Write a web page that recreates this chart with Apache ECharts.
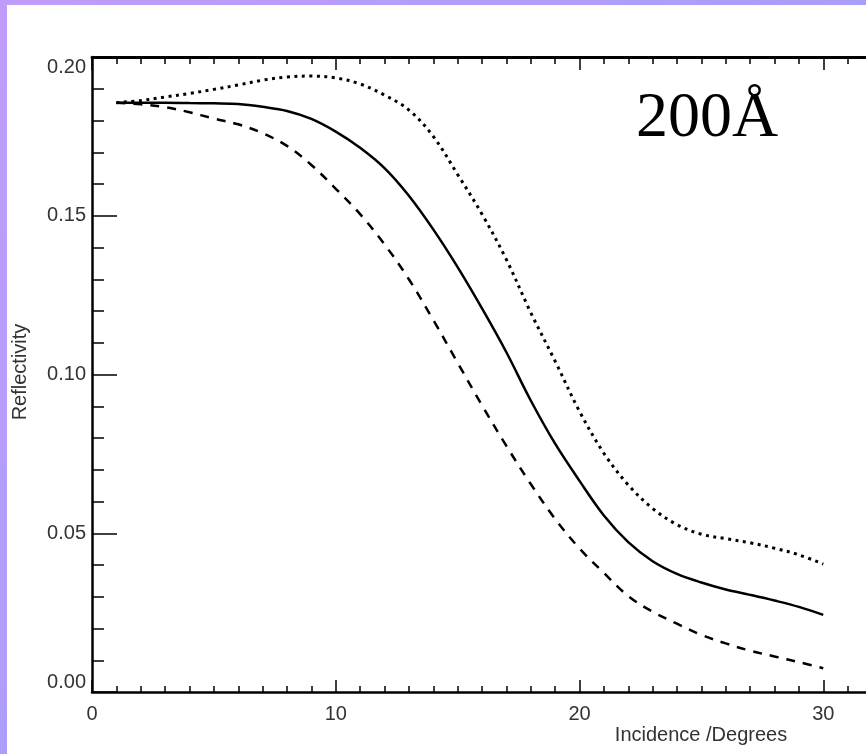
<!DOCTYPE html>
<html>
<head>
<meta charset="utf-8">
<script src="https://cdn.jsdelivr.net/npm/echarts@6/dist/echarts.min.js"></script>
<style>
html,body{margin:0;padding:0;}
#c{width:866px;height:754px;}
</style>
</head>
<body>
<div id="c"></div>
<script>
// Incidence angle (degrees)
var incidence = [1,2,3,4,5,6,7,8,9,10,11,12,13,14,15,16,17,18,19,20,21,22,23,24,25,26,27,28,29,30];
// Dotted curve (upper)
var dottedR = [0.1856,0.1863,0.1874,0.1885,0.1898,0.1912,0.1927,0.1937,0.1940,0.1934,0.1915,0.1880,0.1833,0.1750,0.1630,0.1505,0.1362,0.1195,0.1042,0.0884,0.0752,0.0652,0.0578,0.0527,0.0497,0.0483,0.0470,0.0453,0.0432,0.0403];
// Solid curve (middle)
var solidR = [0.1856,0.1856,0.1856,0.1855,0.1854,0.1852,0.1843,0.1830,0.1805,0.1765,0.1714,0.1650,0.1563,0.1457,0.1338,0.1208,0.1070,0.0918,0.0782,0.0665,0.0556,0.0472,0.0412,0.0372,0.0345,0.0323,0.0306,0.0288,0.0268,0.0243];
// Dashed curve (lower)
var dashedR = [0.1856,0.1851,0.1842,0.1826,0.1806,0.1788,0.1760,0.1720,0.1660,0.1585,0.1505,0.1410,0.1300,0.1172,0.1037,0.0903,0.0775,0.0655,0.0545,0.0452,0.0375,0.0302,0.0253,0.0215,0.0180,0.0153,0.0130,0.0112,0.0094,0.0075];
var yTickValues = [0.00,0.05,0.10,0.15,0.20];
var xTickValues = [0,10,20,30];
var xName = 'Incidence /Degrees';
var yName = 'Reflectivity';
var annotation = '200Å';

function pairs(ys){ return incidence.map(function(x,i){ return [x, ys[i]]; }); }

var chart = echarts.init(document.getElementById('c'), null, {renderer:'canvas'});
var sans = 'Liberation Sans, Arial, sans-serif';
var tickStyle = {color:'#000', width:1.5};
var option = {
  animation:false,
  backgroundColor: new echarts.graphic.LinearGradient(0,0,1,1,[
    {offset:0,color:'#c09cfa'},{offset:0.5,color:'#ab9ef8'},{offset:1,color:'#a0a4f2'}
  ]),
  graphic:[
    {type:'rect', z:-10, shape:{x:7,y:5,width:900,height:800}, style:{fill:'#ffffff'}},
    {type:'text', z:10, x:636, y:119, style:{text:annotation, font:'64px "Liberation Serif", "Times New Roman", serif', fill:'#000', verticalAlign:'middle', align:'left'}},
    {type:'text', z:10, x:701, y:735, style:{text:xName, font:'20px '+sans, fill:'#333', verticalAlign:'middle', align:'center'}},
    {type:'text', z:10, x:20, y:372, rotation:Math.PI/2, style:{text:yName, font:'20px '+sans, fill:'#333', verticalAlign:'middle', align:'center'}}
  ],
  grid:{left:92, top:57, width:975, height:635, containLabel:false, outerBoundsMode:'none'},
  xAxis:[
    {type:'value', position:'bottom', min:0, max:40, interval:10,
     axisLine:{show:true, onZero:false, lineStyle:{color:'#000', width:2.5}},
     axisTick:{show:true, inside:true, length:12, lineStyle:tickStyle},
     minorTick:{show:true, splitNumber:10, length:6, lineStyle:tickStyle},
     splitLine:{show:false},
     axisLabel:{show:true, margin:12, fontSize:20, fontFamily:sans, color:'#333',
       formatter:function(v){ return xTickValues.indexOf(v)>=0 ? String(v) : ''; }}
    },
    {type:'value', position:'top', min:0, max:40, interval:10,
     axisLine:{show:true, onZero:false, lineStyle:{color:'#000', width:3}},
     axisTick:{show:true, inside:true, length:13, lineStyle:tickStyle},
     minorTick:{show:true, splitNumber:10, length:7, lineStyle:tickStyle},
     splitLine:{show:false},
     axisLabel:{show:false}
    }
  ],
  yAxis:[
    {type:'value', min:0, max:0.2, interval:0.05,
     axisLine:{show:true, onZero:false, lineStyle:{color:'#000', width:2.5}},
     axisTick:{show:true, inside:true, length:25, lineStyle:tickStyle},
     minorTick:{show:true, splitNumber:5, length:12, lineStyle:tickStyle},
     splitLine:{show:false},
     axisLabel:{show:true, margin:6, fontSize:20, fontFamily:sans, color:'#333',
       verticalAlignMinLabel:'bottom', verticalAlignMaxLabel:'top',
       formatter:function(v){ return v.toFixed(2); }}
    }
  ],
  series:[
    {type:'line', name:'dotted', data:pairs(dottedR), xAxisIndex:0, showSymbol:false, symbol:'none', smooth:0.35,
     lineStyle:{color:'#000', width:3, type:[3,4.5]}},
    {type:'line', name:'solid', data:pairs(solidR), xAxisIndex:0, showSymbol:false, symbol:'none', smooth:0.35,
     lineStyle:{color:'#000', width:2.5, type:'solid'}},
    {type:'line', name:'dashed', data:pairs(dashedR), xAxisIndex:0, showSymbol:false, symbol:'none', smooth:0.35,
     lineStyle:{color:'#000', width:2.5, type:[9,8]}}
  ]
};
chart.setOption(option);
</script>
</body>
</html>
